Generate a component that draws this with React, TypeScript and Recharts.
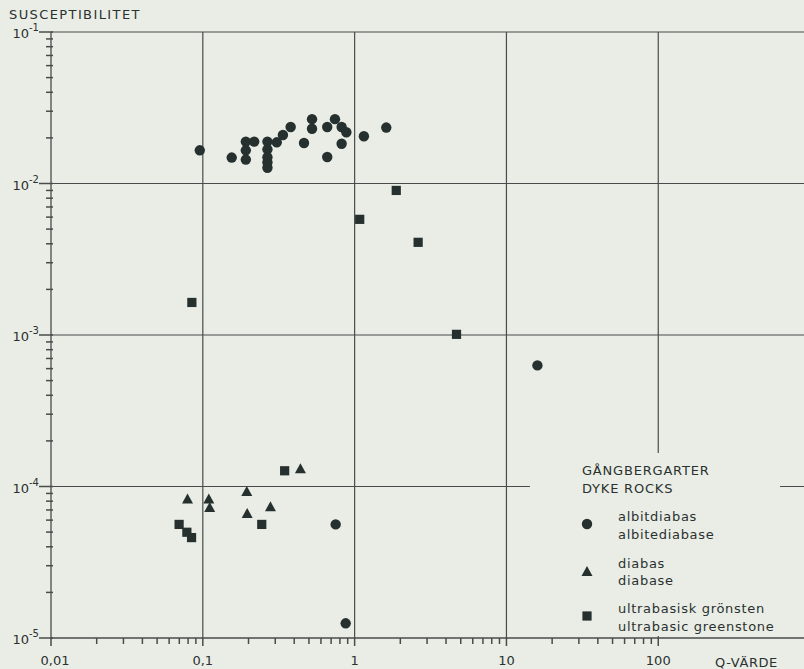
import React from "react";
import {
  ScatterChart,
  Scatter,
  XAxis,
  YAxis,
  ReferenceLine,
} from "recharts";

// Q-värde (q) och susceptibilitet (k)
const albitdiabas = [
  { q: 0.0955, k: 0.01656 },
  { q: 0.155, k: 0.01483 },
  { q: 0.192, k: 0.0189 },
  { q: 0.192, k: 0.01656 },
  { q: 0.192, k: 0.01439 },
  { q: 0.218, k: 0.0189 },
  { q: 0.2665, k: 0.0189 },
  { q: 0.2665, k: 0.0168 },
  { q: 0.2665, k: 0.0149 },
  { q: 0.2665, k: 0.0138 },
  { q: 0.2665, k: 0.0127 },
  { q: 0.307, k: 0.0187 },
  { q: 0.337, k: 0.0209 },
  { q: 0.379, k: 0.0236 },
  { q: 0.464, k: 0.0185 },
  { q: 0.524, k: 0.0266 },
  { q: 0.524, k: 0.023 },
  { q: 0.66, k: 0.0236 },
  { q: 0.66, k: 0.01496 },
  { q: 0.742, k: 0.0266 },
  { q: 0.821, k: 0.0236 },
  { q: 0.882, k: 0.0218 },
  { q: 0.821, k: 0.0183 },
  { q: 1.151, k: 0.0205 },
  { q: 1.616, k: 0.0234 },
  { q: 16.0, k: 0.00063 },
  { q: 0.75, k: 0.0000562 },
  { q: 0.873, k: 0.0000125 },
];

const diabas = [
  { q: 0.0793, k: 0.0000822 },
  { q: 0.1095, k: 0.0000822 },
  { q: 0.111, k: 0.0000721 },
  { q: 0.1948, k: 0.000092 },
  { q: 0.196, k: 0.0000659 },
  { q: 0.279, k: 0.0000729 },
  { q: 0.4395, k: 0.00013 },
];

const ultrabasisk = [
  { q: 1.88, k: 0.009 },
  { q: 1.08, k: 0.0058 },
  { q: 2.62, k: 0.00409 },
  { q: 0.0847, k: 0.00164 },
  { q: 4.69, k: 0.00101 },
  { q: 0.346, k: 0.000127 },
  { q: 0.0698, k: 0.0000562 },
  { q: 0.0785, k: 0.0000499 },
  { q: 0.0843, k: 0.000046 },
  { q: 0.2445, k: 0.0000562 },
];

const xMajor = [0.01, 0.1, 1, 10, 100];
const xLabels = ["0,01", "0,1", "1", "10", "100"];
const yMajor = [1e-5, 1e-4, 1e-3, 1e-2, 1e-1];
const yExponents = ["-5", "-4", "-3", "-2", "-1"];

const minorsFor = (majors: number[]) => {
  const out: number[] = [];
  majors.slice(0, -1).forEach((d) => {
    for (let m = 2; m <= 9; m++) out.push(d * m);
  });
  return out;
};

const xTicks = [...xMajor, ...minorsFor(xMajor)].sort((a, b) => a - b);
const yTicks = [...yMajor, ...minorsFor(yMajor)].sort((a, b) => a - b);

const bg = "#e9ede6";
const ink = "#2b312f";
const lineColor = "#474d4a";
const markColor = "#25302f";
const font = "'DejaVu Sans', sans-serif";

const XTick = ({ x, y, payload }: any) => {
  const idx = xMajor.indexOf(payload.value);
  const major = idx >= 0;
  return (
    <g>
      <line x1={x} y1={y} x2={x} y2={y + (major ? 8 : 6)} stroke={lineColor} strokeWidth={1.5} />
      {major && (
        <text
          x={x + (idx === 0 ? 4 : 0)}
          y={y + 27}
          textAnchor="middle"
          fontSize={13}
          fontFamily={font}
          fill={ink}
        >
          {xLabels[idx]}
        </text>
      )}
    </g>
  );
};

const YTick = ({ x, y, payload }: any) => {
  const idx = yMajor.indexOf(payload.value);
  const major = idx >= 0;
  return (
    <g>
      <line x1={major ? x - 12 : x - 5} y1={y} x2={x + 2} y2={y} stroke={lineColor} strokeWidth={1.5} />
      {major && (
        <text x={x - 12} y={y + 6} textAnchor="end" fontSize={13} fontFamily={font} fill={ink}>
          10
          <tspan dy={-7} fontSize={10}>
            {yExponents[idx]}
          </tspan>
        </text>
      )}
    </g>
  );
};

const Circle = ({ cx, cy }: any) => <circle cx={cx} cy={cy} r={5.2} fill={markColor} />;
const Square = ({ cx, cy }: any) => (
  <rect x={cx - 4.6} y={cy - 4.6} width={9.2} height={9.2} fill={markColor} />
);
const Triangle = ({ cx, cy }: any) => (
  <polygon points={`${cx},${cy - 6} ${cx + 5.5},${cy + 4} ${cx - 5.5},${cy + 4}`} fill={markColor} />
);

const App: React.FC = () => {
  return (
    <div
      style={{
        position: "absolute",
        left: 0,
        top: 0,
        width: 804,
        height: 669,
        background: bg,
        overflow: "hidden",
      }}
    >
      <ScatterChart width={804} height={669} margin={{ top: 32, right: 0, bottom: 0, left: 0 }}>
        <XAxis
          type="number"
          dataKey="q"
          scale="log"
          domain={[0.01, 912]}
          ticks={xTicks}
          interval={0}
          tick={<XTick />}
          tickLine={false}
          tickSize={0}
          tickMargin={0}
          axisLine={{ stroke: lineColor, strokeWidth: 1.3 }}
          height={31}
          allowDataOverflow
        />
        <YAxis
          type="number"
          dataKey="k"
          scale="log"
          domain={[1e-5, 1e-1]}
          ticks={yTicks}
          interval={0}
          tick={<YTick />}
          tickLine={false}
          tickSize={0}
          tickMargin={0}
          axisLine={{ stroke: lineColor, strokeWidth: 1.3 }}
          width={51}
          allowDataOverflow
        />
        {xMajor.slice(1).map((v) => (
          <ReferenceLine key={`x-${v}`} x={v} stroke={lineColor} strokeWidth={1.2} />
        ))}
        {yMajor.slice(1).map((v) => (
          <ReferenceLine key={`y-${v}`} y={v} stroke={lineColor} strokeWidth={1.2} />
        ))}
        <Scatter data={albitdiabas} shape={<Circle />} isAnimationActive={false} />
        <Scatter data={diabas} shape={<Triangle />} isAnimationActive={false} />
        <Scatter data={ultrabasisk} shape={<Square />} isAnimationActive={false} />
      </ScatterChart>

      <svg
        width={804}
        height={669}
        style={{ position: "absolute", left: 0, top: 0, pointerEvents: "none" }}
        fontFamily={font}
        fill={ink}
      >
        <text x={9} y={19} fontSize={13} letterSpacing={1.4}>
          SUSCEPTIBILITET
        </text>
        <text x={715} y={667} fontSize={13} letterSpacing={0.6}>
          Q-VÄRDE
        </text>

        <rect x={530} y={453} width={250} height={183} fill={bg} />
        <text x={582} y={475} fontSize={13} letterSpacing={0.8}>
          GÅNGBERGARTER
        </text>
        <text x={582} y={493} fontSize={13} letterSpacing={0.8}>
          DYKE ROCKS
        </text>

        <circle cx={587} cy={524} r={5.2} fill={markColor} />
        <text x={618} y={521} fontSize={13} letterSpacing={0.7}>albitdiabas</text>
        <text x={618} y={539} fontSize={13} letterSpacing={0.7}>albitediabase</text>

        <polygon points="587,566 592.5,576 581.5,576" fill={markColor} />
        <text x={618} y={568} fontSize={13} letterSpacing={0.7}>diabas</text>
        <text x={618} y={585} fontSize={13} letterSpacing={0.7}>diabase</text>

        <rect x={582.4} y={611.4} width={9.2} height={9.2} fill={markColor} />
        <text x={618} y={613} fontSize={13} letterSpacing={0.7}>ultrabasisk grönsten</text>
        <text x={618} y={631} fontSize={13} letterSpacing={0.7}>ultrabasic greenstone</text>
      </svg>
    </div>
  );
};

export default App;
